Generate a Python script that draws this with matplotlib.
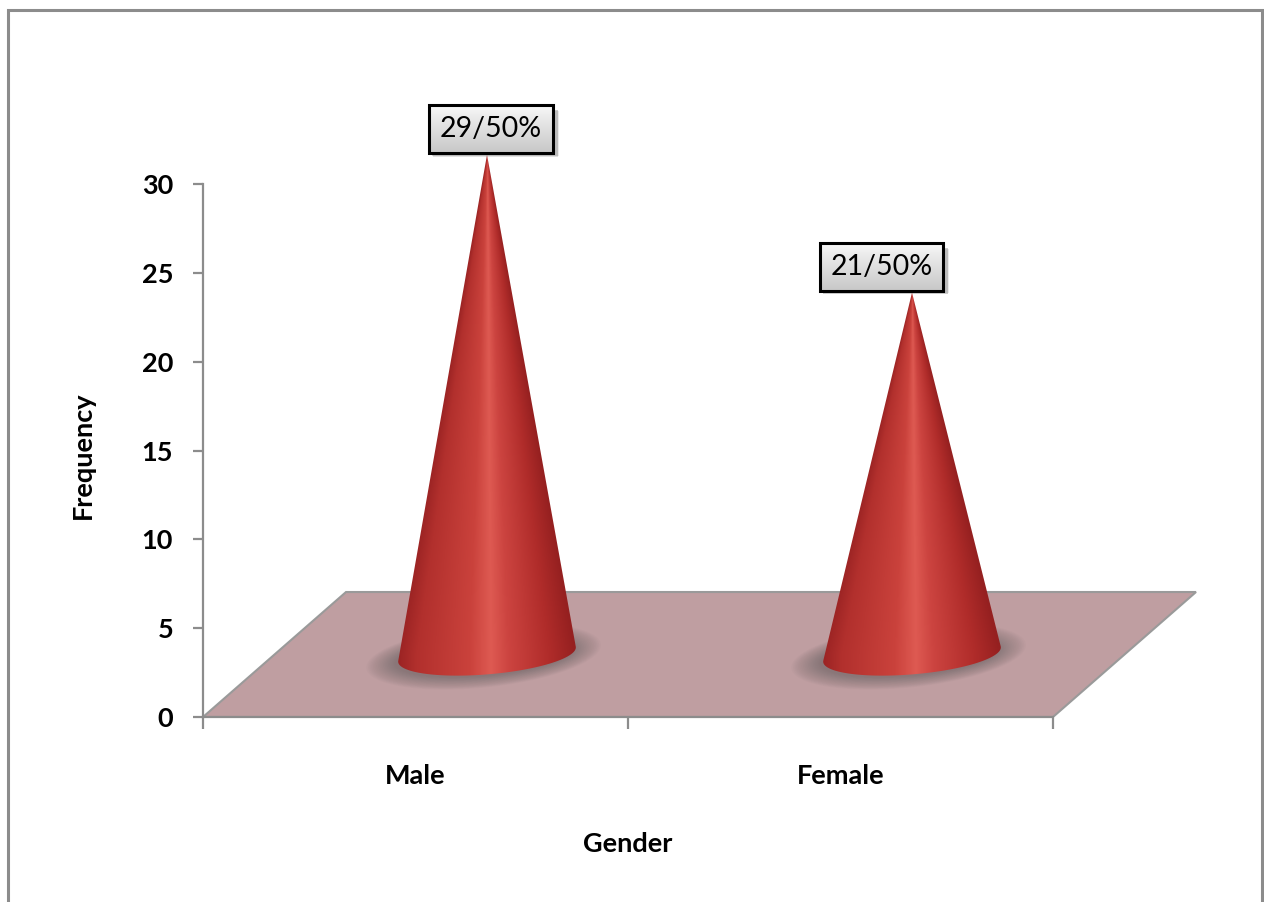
import numpy as np
import matplotlib.pyplot as plt
from matplotlib.colors import LinearSegmentedColormap
from matplotlib.patches import Polygon, Rectangle

genders = ["Male", "Female"]
counts = [29, 21]
labels = ["29/50%", "21/50%"]
yticks = [0, 5, 10, 15, 20, 25, 30]

plt.rcParams['font.family'] = ['Lato', 'DejaVu Sans']

# pseudo-3d layout (data units)
DX, DY = 0.3365, 7.035          # floor depth offset
RX, RY, TILT = 0.209, 1.12, 0.4  # cone base ellipse
SHRINK = 0.97                   # height at mid depth
cone_cmap = LinearSegmentedColormap.from_list("cone", [
    (0.00, "#9c2424"), (0.10, "#b2302d"), (0.40, "#ca423c"), (0.52, "#de5a52"),
    (0.62, "#cc4440"), (0.85, "#b02c2a"), (1.00, "#952020")])


def hull(points):
    pts = sorted(map(tuple, points))

    def half(seq):
        out = []
        for p in seq:
            while len(out) >= 2 and ((out[-1][0] - out[-2][0]) * (p[1] - out[-2][1])
                                     - (out[-1][1] - out[-2][1]) * (p[0] - out[-2][0])) <= 0:
                out.pop()
            out.append(p)
        return out
    lo = half(pts)
    up = half(pts[::-1])
    return np.array(lo[:-1] + up[:-1])


def base_ring(xc, yb, s=1.0, sy=None):
    sy = s if sy is None else sy
    th = np.linspace(0, 2 * np.pi, 241)
    return np.column_stack([xc + s * RX * np.cos(th),
                            yb + sy * RY * np.sin(th) + sy * TILT * np.cos(th)])


def draw_cone(ax, xc, yb, h):
    # soft shadow on the floor
    for s in np.linspace(1.32, 1.0, 18):
        ax.add_patch(Polygon(base_ring(xc - 0.008, yb - 0.1, s, 1 + (s - 1) * 1.8),
                             closed=True, fc="#555555", ec="none", alpha=0.032, zorder=2))
    ring = base_ring(xc, yb)
    outline = hull(np.vstack([ring, [[xc, yb + h]]]))
    clip = Polygon(outline, closed=True, fill=False, lw=0, zorder=3)
    ax.add_patch(clip)

    x0, x1 = xc - RX * 1.05, xc + RX * 1.05
    y0, y1 = yb - RY - TILT - 0.2, yb + h + 0.2
    X, Y = np.meshgrid(np.linspace(x0, x1, 300), np.linspace(y0, y1, 900))
    frac = np.clip((yb + h - Y) / h, 0.01, 1)
    u = np.clip(((X - xc) / (RX * frac) + 1) / 2, 0, 1)
    im = ax.imshow(cone_cmap(u), extent=(x0, x1, y0, y1), origin="lower",
                   aspect="auto", interpolation="bilinear", zorder=3)
    im.set_clip_path(clip)


fig = plt.figure(figsize=(12.64, 9.02), dpi=100)
fig.patches.append(Rectangle((8 / 1264, -0.02), 1254 / 1264, 892 / 902 + 0.02,
                             transform=fig.transFigure, fill=False,
                             ec="#8c8c8c", lw=2.2))

ax = fig.add_axes([203 / 1264, 185 / 902, 1017 / 1264, 627 / 902])
ax.patch.set_visible(False)

# floor
ncat = len(genders)
floor = [(0, 0), (ncat, 0), (ncat + DX, DY), (DX, DY)]
ax.add_patch(Polygon(floor, closed=True, fc="#bf9ea1", ec="#9a9a9a", lw=1.5, zorder=1))

apexes = []
for i, c in enumerate(counts):
    xc = i + 0.5 + DX / 2
    yb = DY / 2
    h = c * SHRINK
    draw_cone(ax, xc, yb, h)
    apexes.append((xc, yb + h))

label_dx = [3, -22]
texts = []
for (xa, ya), lab, dx in zip(apexes, labels, label_dx):
    t = ax.annotate(lab, (xa, ya), xytext=(dx, 9), textcoords="offset points",
                    ha="center", va="bottom", fontsize=20.5, color="black",
                    zorder=7, annotation_clip=False,
                    bbox=dict(boxstyle="square,pad=0.38", fc="none", ec="black", lw=2.2))
    texts.append(t)

ax.set_xlim(0, 1017 / 425)
ax.set_ylim(0, 627 / (533 / 30))

for side in ("top", "right"):
    ax.spines[side].set_visible(False)
for side in ("left", "bottom"):
    ax.spines[side].set_color("#8c8c8c")
    ax.spines[side].set_linewidth(1.6)
    ax.spines[side].set_zorder(4)
ax.spines["left"].set_bounds(0, 30)
ax.spines["bottom"].set_bounds(0, ncat)

ax.set_yticks(yticks)
ax.set_yticklabels([str(v) for v in yticks], fontsize=19.5, fontweight="bold")
ax.tick_params(axis="y", direction="out", length=7.5, width=1.6, color="#8c8c8c", pad=14)
ax.set_xticks(range(ncat + 1))
ax.set_xticklabels([])
ax.tick_params(axis="x", which="major", direction="out", length=8.5, width=1.6, color="#8c8c8c")
ax.set_xticks([i + 0.5 for i in range(ncat)], minor=True)
ax.set_xticklabels(genders, minor=True, fontsize=19.5, fontweight="bold")
ax.tick_params(axis="x", which="minor", length=0, pad=34)

ax.set_xlabel("Gender", fontsize=19.5, fontweight="bold")
ax.xaxis.set_label_coords(1.0 / (1017 / 425), -0.183)
ax.set_ylabel("Frequency", fontsize=19.5, fontweight="bold")
ax.yaxis.set_label_coords(-0.106, 0.418)

# gradient fill and drop shadow behind the value labels
fig.canvas.draw()
inv = ax.transData.inverted()
grad = np.linspace(0.78, 0.97, 64)[:, None] * np.ones((1, 4))
grad = np.dstack([grad, grad, grad, np.ones_like(grad)])
for t in texts:
    ext = t.get_bbox_patch().get_window_extent()
    (bx0, by0), (bx1, by1) = inv.transform([[ext.x0, ext.y0], [ext.x1, ext.y1]])
    sx, sy = inv.transform([[ext.x0 + 4, ext.y0 - 4]])[0] - np.array([bx0, by0])
    for k, a in zip(range(3), (0.10, 0.12, 0.16)):
        g = 3 - k
        gx, gy = inv.transform([[ext.x0 + g, ext.y0 - g]])[0] - np.array([bx0, by0])
        ax.add_patch(Rectangle((bx0 + sx - gx * 0.5, by0 + sy - gy * 0.5),
                               bx1 - bx0 + gx, by1 - by0 + gy, fc="#404040",
                               ec="none", alpha=a, zorder=5, clip_on=False))
    ax.imshow(grad, extent=(bx0, bx1, by0, by1), origin="lower", aspect="auto",
              zorder=6, clip_on=False)

ax.set_xlim(0, 1017 / 425)
ax.set_ylim(0, 627 / (533 / 30))

fig.savefig("out.png", dpi=100)
